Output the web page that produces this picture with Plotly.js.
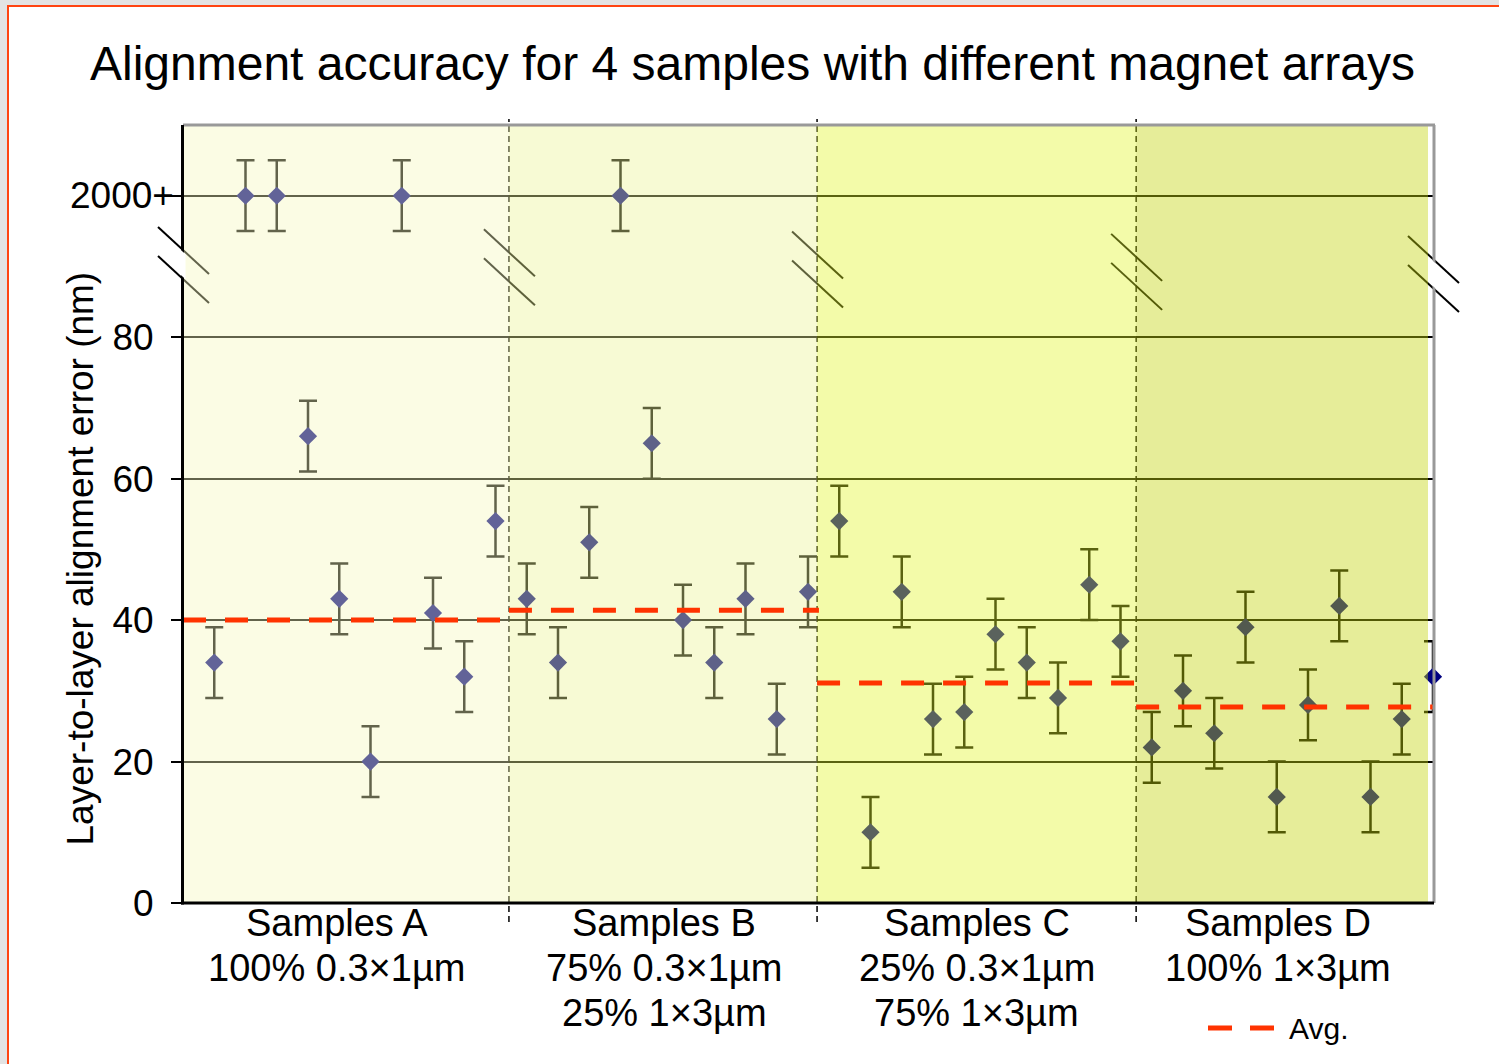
<!DOCTYPE html>
<html><head><meta charset="utf-8">
<script src="https://cdn.plot.ly/plotly-3.0.1.min.js"></script>
<style>
html,body{margin:0;padding:0;background:#e3e3e3;width:1499px;height:1064px;overflow:hidden}
#frame{position:absolute;left:7px;top:5px;width:1492px;height:1059px;border-left:2px solid #ff4411;border-top:2px solid #ff4411;background:#fff}
#chart{position:absolute;left:0;top:0;width:1490px;height:1057px}
</style></head><body><div id="frame"><div id="chart"></div></div>
<script>
// ---- data (values of 100 are the "2000+" off-scale points) ----
const groupNames = ['Samples A', 'Samples B', 'Samples C', 'Samples D'];
const groupDesc = [['100% 0.3×1µm'], ['75% 0.3×1µm', '25% 1×3µm'], ['25% 0.3×1µm', '75% 1×3µm'], ['100% 1×3µm']];
const valuesA = [34, 100, 100, 66, 43, 20, 100, 41, 32, 54];
const valuesB = [43, 34, 51, 100, 65, 40, 34, 43, 26, 44];
const valuesC = [54, 10, 44, 26, 27, 38, 34, 29, 45, 37];
const valuesD = [22, 30, 24, 39, 15, 28, 42, 15, 26, 32];
const errA = [5, 5, 5, 5, 5, 5, 5, 5, 5, 5];
const errB = [5, 5, 5, 5, 5, 5, 5, 5, 5, 5];
const errC = [5, 5, 5, 5, 5, 5, 5, 5, 5, 5];
const errD = [5, 5, 5, 5, 5, 5, 5, 5, 5, 5];
const averages = [40.0, 41.4, 31.1, 27.7];
const groupBounds = [0, 10.43, 20.29, 30.5, 40];
const labelCenters = [4.92, 15.4, 25.4, 35.05];
const yTickVals = [0, 20, 40, 60, 80, 100];
const yTickText = ['0', '20', '40', '60', '80', '2000+'];
const yTitle = 'Layer-to-layer alignment error (nm)';

// ---- build ----
const allVals = [].concat(valuesA, valuesB, valuesC, valuesD);
const allErr = [].concat(errA, errB, errC, errD);
const xs = allVals.map((_, i) => i + 1);

const FONT = 'Liberation Sans, Arial, sans-serif';
const XMAX = 40, YMAX = 110;
const PW = 1250, PH = 778;           // plot size in px
const pxX = s => s / XMAX;          // data x -> paper
const dpx = p => p / PW;            // px offset -> paper x
const dpy = p => p / PH;            // px offset -> paper y

const overlayFill = ['rgba(245,248,188,0.4)', 'rgba(235,243,148,0.4)', 'rgba(226,246,40,0.4)', 'rgba(196,211,12,0.42)'];
const overlayEnd = [groupBounds[1], groupBounds[2], groupBounds[3], 39.84];

const shapes = [];
// dashed separators (below)
for (let k = 1; k < 4; k++) {
  shapes.push({type: 'line', layer: 'below', xref: 'paper', yref: 'paper',
    x0: pxX(groupBounds[k]), x1: pxX(groupBounds[k]), y0: -dpy(19), y1: 1 + dpy(6),
    line: {color: '#000', width: 1.5, dash: '6px,4px'}});
}
// break marks (below)
const breaks = [];
groupBounds.forEach(s => {
  const cx = s / XMAX;
  const yTop = 1 - dpy(102 + 9 * s / XMAX);
  [0, 29].forEach(off => {
    shapes.push({type: 'line', layer: 'below', xref: 'paper', yref: 'paper',
      x0: cx - dpx(25), x1: cx + dpx(26), y0: yTop - dpy(off), y1: yTop - dpy(off + 47),
      line: {color: '#000', width: 2}});
  });
  breaks.push({cx, yTop});
});
// translucent colored overlays (above traces)
for (let k = 0; k < 4; k++) {
  shapes.push({type: 'rect', layer: 'above', xref: 'x', yref: 'y',
    x0: groupBounds[k], x1: overlayEnd[k], y0: 0, y1: YMAX,
    fillcolor: overlayFill[k], line: {width: 0}});
}
// average lines
for (let k = 0; k < 4; k++) {
  shapes.push({type: 'line', layer: 'above', xref: 'x', yref: 'y',
    x0: groupBounds[k], x1: groupBounds[k + 1] + 0.06, y0: averages[k], y1: averages[k],
    line: {color: '#ff3300', width: 5, dash: '23px,19px'}});
}
// frame lines
shapes.push({type: 'line', layer: 'above', xref: 'paper', yref: 'paper', x0: 0, x1: 1 + dpx(2), y0: 1, y1: 1, line: {color: '#999', width: 3}});
shapes.push({type: 'line', layer: 'above', xref: 'paper', yref: 'paper', x0: 1 + dpx(1), x1: 1 + dpx(1), y0: 0, y1: 1, line: {color: '#999', width: 3}});
shapes.push({type: 'line', layer: 'above', xref: 'paper', yref: 'paper', x0: -dpx(0.5), x1: -dpx(0.5), y0: -dpy(1.5), y1: 1, line: {color: '#000', width: 3}});
shapes.push({type: 'line', layer: 'above', xref: 'paper', yref: 'paper', x0: -dpx(2), x1: 1 + dpx(1), y0: 0, y1: 0, line: {color: '#000', width: 3}});
// gaps in the axis lines at the break marks
[breaks[0], breaks[4]].forEach((b, j) => {
  const xc = j === 0 ? -dpx(0.5) : 1 + dpx(1);
  const topAt = x => b.yTop - (x - (b.cx - dpx(25))) / dpx(51) * dpy(47);
  const xa = xc - dpx(3), xb = xc + dpx(3);
  const p = `M${xa},${topAt(xa) - dpy(2)} L${xb},${topAt(xb) - dpy(2)} L${xb},${topAt(xb) - dpy(27)} L${xa},${topAt(xa) - dpy(27)} Z`;
  shapes.push({type: 'path', layer: 'above', xref: 'paper', yref: 'paper', path: p, fillcolor: '#fff', line: {width: 0}});
});
// legend sample
shapes.push({type: 'line', layer: 'above', xref: 'paper', yref: 'paper',
  x0: 1 - dpx(225), x1: 1 - dpx(159), y0: -dpy(125), y1: -dpy(125),
  line: {color: '#ff3300', width: 5, dash: '24px,18px'}});

const annotations = [];
groupNames.forEach((g, k) => {
  [g].concat(groupDesc[k]).forEach((line, j) => {
    annotations.push({xref: 'x', yref: 'paper', x: labelCenters[k], y: -dpy(20 + 45 * j),
      text: line, showarrow: false, xanchor: 'center', yanchor: 'middle',
      font: {family: FONT, size: 38, color: '#000'}});
  });
});
annotations.push({xref: 'paper', yref: 'y', x: -dpx(7), y: yTickVals[5], text: yTickText[5],
  showarrow: false, xanchor: 'right', yanchor: 'middle', font: {family: FONT, size: 37, color: '#000'}});
annotations.push({xref: 'paper', yref: 'paper', x: 1 - dpx(146), y: -dpy(125), text: 'Avg.',
  showarrow: false, xanchor: 'left', yanchor: 'middle', font: {family: FONT, size: 30, color: '#000'}});
// y-axis title (placed off-centre as in the original)
annotations.push({xref: 'paper', yref: 'paper', x: -dpx(103), y: dpy(344.5), text: yTitle, textangle: -90,
  showarrow: false, xanchor: 'center', yanchor: 'middle', font: {family: FONT, size: 37, color: '#000'}});

const trace = {
  type: 'scatter', mode: 'markers', x: xs, y: allVals, showlegend: false, cliponaxis: false,
  marker: {symbol: 'diamond', size: 14, color: '#000080'},
  error_y: {type: 'data', array: allErr, visible: true, color: '#000', thickness: 2.5, width: 9}
};

const layout = {
  width: 1490, height: 1057,
  margin: {l: 174, r: 66, t: 118, b: 161},
  paper_bgcolor: '#fff', plot_bgcolor: 'rgba(0,0,0,0)',
  showlegend: false,
  title: {text: 'Alignment accuracy for 4 samples with different magnet arrays',
    font: {family: FONT, size: 48, color: '#000'}, xref: 'container', x: 0.499, xanchor: 'center',
    yref: 'container', y: 0.947, yanchor: 'middle'},
  xaxis: {range: [0, XMAX], showgrid: false, zeroline: false, showticklabels: false, ticks: '', showline: false, fixedrange: true},
  yaxis: {range: [0, YMAX], tickvals: yTickVals, ticktext: yTickText.slice(0, 5).concat(['']),
    showgrid: true, gridcolor: '#000', gridwidth: 2, zeroline: false, showline: false,
    ticks: 'outside', ticklen: 11, tickwidth: 2, tickcolor: '#000', ticklabelstandoff: 10,
    tickfont: {family: FONT, size: 37, color: '#000'},
    automargin: false, fixedrange: true},
  shapes, annotations
};

Plotly.newPlot('chart', [trace], layout, {displayModeBar: false, staticPlot: true});
</script></body></html>
